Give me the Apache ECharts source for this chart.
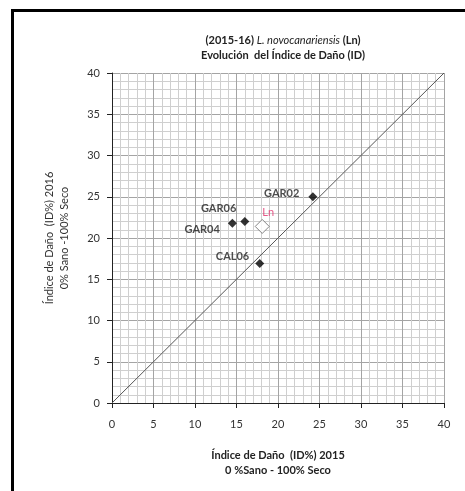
<!DOCTYPE html>
<html>
<head>
<meta charset="utf-8">
<script src="https://cdn.jsdelivr.net/npm/echarts@6/dist/echarts.min.js"></script>
<style>
  html, body { margin: 0; padding: 0; background: #fff; }
  #frame {
    position: absolute; left: 11px; top: 9px; width: 454px; height: 482px;
    border-top: 3px solid #000; border-left: 3px solid #000;
    box-sizing: border-box;
  }
  #chart { position: absolute; left: 0; top: 0; width: 465px; height: 491px; }
</style>
</head>
<body>
<div id="frame"></div>
<div id="chart"></div>
<script>
// Índice de Daño 2015 (x) vs 2016 (y)
const siteNames = ['GAR02', 'GAR06', 'GAR04', 'CAL06']
const id2015 = [24.2, 16.0, 14.5, 17.8]
const id2016 = [25.0, 22.0, 21.8, 16.9]
const meanName = 'Ln'
const meanPoint = [18.1, 21.4]
const diagonal = [[0, 0], [40, 40]]
const axisMin = 0
const axisMax = 40

// label offsets for each site, [dx, dy]
const labelOffsets = {
  GAR02: [-3, -3],
  GAR06: [2, -13],
  GAR04: [-2, 6],
  CAL06: [0, -7]
}

const font = 'Lato, "Open Sans", sans-serif'
const chart = echarts.init(document.getElementById('chart'))

const axisCommon = {
  type: 'value',
  min: axisMin,
  max: axisMax,
  interval: 5,
  nameLocation: 'middle',
  nameTextStyle: { fontFamily: font, fontSize: 11, fontWeight: 'bold', color: '#222', lineHeight: 15 },
  axisLine: { show: true, lineStyle: { color: '#222', width: 1 } },
  axisTick: { show: true, length: 5, lineStyle: { color: '#222' } },
  axisLabel: { fontFamily: font, fontSize: 11, color: '#333' },
  splitLine: { show: true, lineStyle: { color: '#a4a4a4', width: 1 } },
  minorTick: { show: false, splitNumber: 5 },
  minorSplitLine: { show: true, lineStyle: { color: '#cfcfcf', width: 1 } }
}

const siteData = siteNames.map((n, i) => ({
  name: n,
  value: [id2015[i], id2016[i]],
  label: { offset: labelOffsets[n] }
}))

chart.setOption({
  backgroundColor: 'transparent',
  animation: false,
  title: {
    text: '(2015-16) {it|L. novocanariensis} (Ln)\nEvolución  del Índice de Daño (ID)',
    left: 278,
    top: 28,
    textAlign: 'center',
    textStyle: {
      fontFamily: font, fontSize: 11, fontWeight: 'bold', color: '#222', lineHeight: 15,
      rich: { it: { fontFamily: font, fontSize: 11, fontStyle: 'italic', fontWeight: 'normal', color: '#222' } }
    }
  },
  grid: { left: 112, top: 73, right: 21, bottom: 88 },
  xAxis: Object.assign({}, axisCommon, {
    name: 'Índice de Daño  (ID%) 2015\n0 %Sano - 100% Seco',
    nameGap: 45,
    axisLabel: Object.assign({}, axisCommon.axisLabel, { margin: 16 })
  }),
  yAxis: Object.assign({}, axisCommon, {
    name: 'Índice de Daño  (ID%) 2016\n0% Sano -100% Seco',
    nameGap: 40,
    nameTextStyle: Object.assign({}, axisCommon.nameTextStyle, { fontWeight: 'normal', color: '#333' }),
    axisLabel: Object.assign({}, axisCommon.axisLabel, { margin: 12 })
  }),
  series: [
    {
      type: 'line',
      data: diagonal,
      symbol: 'none',
      lineStyle: { color: '#555', width: 1 },
      silent: true,
      z: 2
    },
    {
      type: 'scatter',
      data: siteData,
      symbol: 'diamond',
      symbolSize: 9,
      itemStyle: { color: '#000' },
      label: {
        show: true,
        position: 'left',
        distance: 6,
        formatter: '{b}',
        fontFamily: font,
        fontSize: 11,
        fontWeight: 'bold',
        color: '#222'
      },
      z: 3
    },
    {
      type: 'scatter',
      data: [{ name: meanName, value: meanPoint }],
      symbol: 'diamond',
      symbolSize: 14,
      itemStyle: { color: '#fff', borderColor: '#666', borderWidth: 1 },
      label: {
        show: true,
        position: 'top',
        offset: [6, 0],
        distance: 1,
        formatter: '{b}',
        fontFamily: font,
        fontSize: 11,
        color: '#e0306a'
      },
      z: 4
    }
  ]
})
</script>
</body>
</html>
